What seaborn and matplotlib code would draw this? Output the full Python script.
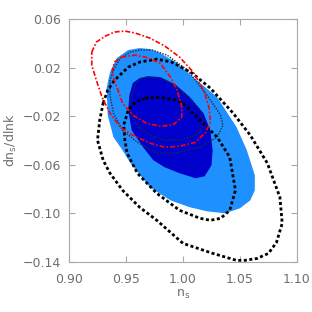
import numpy as np
import matplotlib
matplotlib.use('Agg')
import matplotlib.pyplot as plt
import seaborn as sns

# contornos (n_s, dn_s/dlnk)
azul_claro_ns = [0.952, 0.962, 0.971, 0.980, 0.995, 1.012, 1.030, 1.047, 1.056, 1.063, 1.063, 1.059, 1.050,
                 1.037, 1.021, 1.006, 0.989, 0.971, 0.954, 0.947, 0.939, 0.934, 0.933, 0.936, 0.942]
azul_claro_run = [0.0345, 0.0361, 0.0353, 0.0320, 0.0237, 0.0097, -0.0043, -0.0290, -0.0480, -0.0686, -0.0809,
                  -0.0892, -0.0957, -0.0999, -0.0982, -0.0949, -0.0892, -0.0784, -0.0587, -0.0480, -0.0372,
                  -0.0191, 0.0031, 0.0163, 0.0279]

azul_escuro_ns = [0.956, 0.962, 0.969, 0.980, 0.993, 1.006, 1.018, 1.024, 1.026, 1.025, 1.019, 1.011, 0.997,
                  0.984, 0.974, 0.965, 0.955, 0.952, 0.953]
azul_escuro_run = [0.0073, 0.0114, 0.0130, 0.0122, 0.0064, -0.0043, -0.0175, -0.0315, -0.0480, -0.0603, -0.0694,
                   -0.0710, -0.0669, -0.0620, -0.0562, -0.0455, -0.0315, -0.0150, -0.0026]

pont_ext_ns = [0.939, 0.945, 0.954, 0.962, 0.973, 0.986, 1.004, 1.021, 1.033, 1.035, 1.030, 1.015, 0.993,
               0.977, 0.960, 0.947, 0.939, 0.936, 0.936]
pont_ext_run = [0.0180, 0.0279, 0.0328, 0.0345, 0.0345, 0.0303, 0.0180, -0.0026, -0.0191, -0.0273, -0.0372,
                -0.0455, -0.0504, -0.0504, -0.0414, -0.0315, -0.0175, -0.0026, 0.0097]

pont_int_ns = [0.958, 0.962, 0.969, 0.980, 0.993, 1.006, 1.015, 1.018, 1.011, 0.997, 0.984, 0.971, 0.961,
               0.954, 0.954]
pont_int_run = [0.0056, 0.0106, 0.0122, 0.0114, 0.0056, -0.0051, -0.0150, -0.0273, -0.0356, -0.0397, -0.0397,
                -0.0356, -0.0290, -0.0175, -0.0067]

trac_ext_ns = [0.930, 0.934, 0.940, 0.952, 0.962, 0.977, 0.990, 1.008, 1.024, 1.044, 1.059, 1.074, 1.085,
               1.087, 1.082, 1.075, 1.065, 1.054, 1.047, 1.026, 1.000, 0.995, 0.977, 0.962, 0.947, 0.936,
               0.930, 0.925, 0.927]
trac_ext_run = [-0.0092, 0.0015, 0.0097, 0.0204, 0.0246, 0.0270, 0.0246, 0.0155, 0.0031, -0.0175, -0.0356,
                -0.0587, -0.0867, -0.1081, -0.1238, -0.1328, -0.1370, -0.1386, -0.1386, -0.1328, -0.1246,
                -0.1205, -0.1056, -0.0949, -0.0809, -0.0669, -0.0562, -0.0397, -0.0232]

trac_int_ns = [0.967, 0.980, 0.993, 1.000, 1.015, 1.030, 1.041, 1.046, 1.041, 1.033, 1.024, 1.015, 0.997,
               0.977, 0.960, 0.951, 0.949, 0.948, 0.952, 0.958]
trac_int_run = [-0.0051, -0.0043, -0.0067, -0.0092, -0.0232, -0.0372, -0.0537, -0.0809, -0.0974, -0.1040,
                -0.1056, -0.1040, -0.0974, -0.0834, -0.0669, -0.0504, -0.0397, -0.0273, -0.0150, -0.0084]

verm_ext_ns = [0.920, 0.924, 0.932, 0.940, 0.949, 0.958, 0.971, 0.984, 0.997, 1.009, 1.018, 1.023, 1.024,
               1.020, 1.011, 0.997, 0.984, 0.971, 0.956, 0.945, 0.936, 0.929, 0.924, 0.920]
verm_ext_run = [0.0328, 0.0410, 0.0460, 0.0493, 0.0501, 0.0485, 0.0443, 0.0378, 0.0287, 0.0163, 0.0015,
                -0.0133, -0.0249, -0.0331, -0.0414, -0.0447, -0.0455, -0.0422, -0.0356, -0.0290, -0.0175,
                -0.0043, 0.0097, 0.0221]

verm_int_ns = [0.946, 0.958, 0.967, 0.980, 0.989, 0.995, 0.999, 0.999, 0.991, 0.980, 0.968, 0.956, 0.947,
               0.943, 0.939, 0.938, 0.940]
verm_int_run = [0.0287, 0.0303, 0.0287, 0.0237, 0.0122, 0.0015, -0.0125, -0.0208, -0.0273, -0.0282, -0.0257,
                -0.0191, -0.0092, 0.0015, 0.0114, 0.0180, 0.0246]

xticks = [0.90, 0.95, 1.00, 1.05, 1.10]
yticks = [-0.14, -0.10, -0.06, -0.02, 0.02, 0.06]


def fechar(xs, ys):
    return list(xs) + [xs[0]], list(ys) + [ys[0]]


sns.set_style('ticks')
plt.rcParams['font.family'] = ['DejaVu Sans']

fig = plt.figure(figsize=(3.12, 3.12), dpi=100)
ax = fig.add_axes([0.221, 0.160, 0.731, 0.779])

ax.fill(azul_claro_ns, azul_claro_run, color='#1e90ff', lw=0)
ax.fill(azul_escuro_ns, azul_escuro_run, color='#0000cd', lw=0)

curvas = [
    (pont_ext_ns, pont_ext_run, '#1a2e38', 1.0, (0, (1, 1))),
    (pont_int_ns, pont_int_run, '#1a2e38', 1.0, (0, (1, 1))),
    (trac_ext_ns, trac_ext_run, 'black', 2.0, (0, (1.1, 0.9))),
    (trac_int_ns, trac_int_run, 'black', 2.0, (0, (1.1, 0.9))),
    (verm_ext_ns, verm_ext_run, 'red', 1.2, (0, (3, 1.2, 1, 1.2))),
    (verm_int_ns, verm_int_run, 'red', 1.2, (0, (3, 1.2, 1, 1.2))),
]
for xs, ys, cor, lw, ls in curvas:
    cx, cy = fechar(xs, ys)
    sns.lineplot(x=cx, y=cy, sort=False, estimator=None, color=cor, lw=lw, ax=ax, linestyle=ls)

ax.set_xlim(0.90, 1.10)
ax.set_ylim(-0.14, 0.06)
ax.set_xticks(xticks)
ax.set_yticks(yticks)
ax.set_xticklabels([f'{v:.2f}' for v in xticks])
ax.set_yticklabels([f'{v:.2f}'.replace('-', '\u2212') for v in yticks])

cinza = '#6e6e6e'
for s in ax.spines.values():
    s.set_visible(True)
    s.set_color('#a8a8a8')
    s.set_linewidth(0.8)
ax.tick_params(direction='in', length=4, width=0.8, color='#a8a8a8', labelcolor=cinza,
               labelsize=9, top=True, right=True)
ax.tick_params(axis='x', pad=8)
ax.tick_params(axis='y', pad=6)
ax.set_xlabel('n$_{\\rm s}$', color=cinza, fontsize=9, labelpad=1)
ax.set_ylabel('dn$_{\\rm s}$/dlnk', color=cinza, fontsize=9, labelpad=2)

fig.savefig('out.png', dpi=100)
